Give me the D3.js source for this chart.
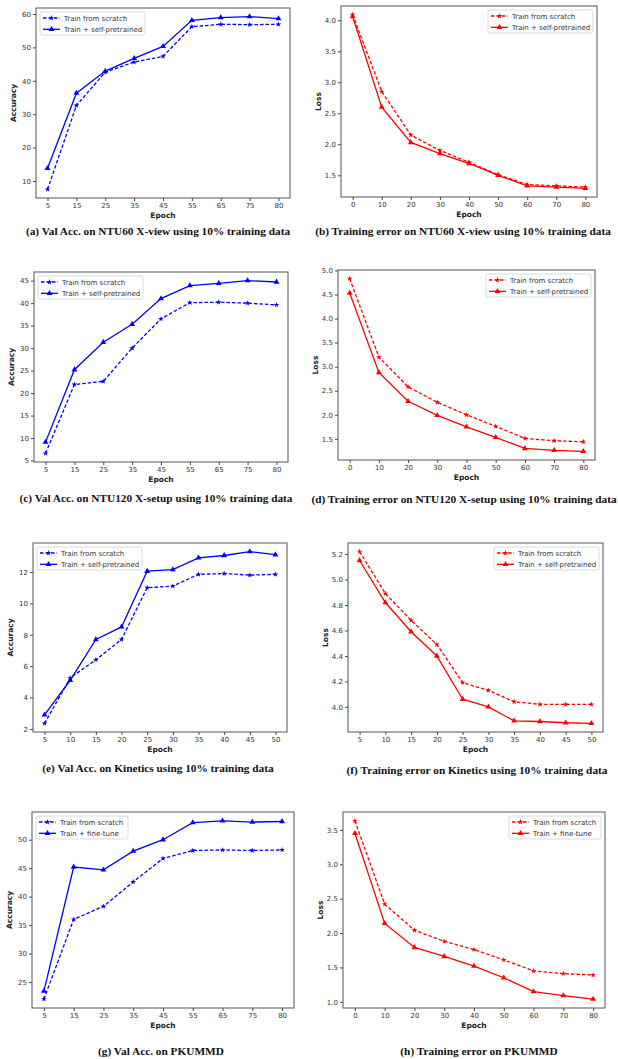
<!DOCTYPE html>
<html lang="en">
<head>
<meta charset="UTF-8">
<title>Val Acc. and Training error curves</title>
<script src="https://d3js.org/d3.v7.min.js"></script>
<style>
    body { margin: 0; background: #fff; }
    svg text { font-family: "DejaVu Sans", sans-serif; }
    .tick text { fill: #333; font-size: 7px; }
    .axlab { font-size: 7.5px; font-weight: bold; fill: #222; }
    .leg { font-size: 7px; fill: #333; }
    .cap { font-family: "Liberation Serif", "Times New Roman", serif !important; font-weight: bold; font-size: 11.3px; fill: #111; }
</style>
</head>
<body>
<div id="chart"></div>
<script>
// epochs
const epochsAcc = ["5", "15", "25", "35", "45", "55", "65", "75", "80"];
const epochsLoss = [0, 10, 20, 30, 40, 50, 60, 70, 80];
const epochsKin = [5, 10, 15, 20, 25, 30, 35, 40, 45, 50];

// (a) NTU60 X-view acc
const ntu60AccScratch = [7.5, 32.6, 42.6, 45.6, 47.3, 56.2, 56.9, 56.8, 56.9];
const ntu60AccPre = [13.8, 36.3, 42.9, 46.7, 50.3, 58.1, 58.9, 59.2, 58.6];
// (b) NTU60 X-view loss
const ntu60LossScratch = [4.09, 2.85, 2.15, 1.90, 1.71, 1.51, 1.35, 1.33, 1.31];
const ntu60LossPre = [4.06, 2.60, 2.03, 1.85, 1.69, 1.50, 1.33, 1.31, 1.29];
// (c) NTU120 X-setup acc
const ntu120AccScratch = [6.6, 21.9, 22.6, 30.0, 36.5, 40.1, 40.2, 40.0, 39.6];
const ntu120AccPre = [9.1, 25.2, 31.3, 35.3, 41.0, 43.9, 44.4, 45.0, 44.7];
// (d) NTU120 X-setup loss
const ntu120LossScratch = [4.83, 3.20, 2.58, 2.26, 2.00, 1.76, 1.51, 1.46, 1.44];
const ntu120LossPre = [4.53, 2.88, 2.28, 1.99, 1.75, 1.53, 1.30, 1.26, 1.24];
// (e) Kinetics acc
const kinAccScratch = [2.35, 5.25, 6.4, 7.7, 11.0, 11.1, 11.85, 11.9, 11.8, 11.85];
const kinAccPre = [2.9, 5.1, 7.7, 8.5, 12.05, 12.15, 12.9, 13.05, 13.3, 13.1];
// (f) Kinetics loss
const kinLossScratch = [5.22, 4.89, 4.68, 4.49, 4.19, 4.13, 4.04, 4.02, 4.02, 4.02];
const kinLossPre = [5.15, 4.82, 4.59, 4.40, 4.06, 4.00, 3.89, 3.885, 3.875, 3.87];
// (g) PKUMMD acc
const pkuAccScratch = [22.0, 36.0, 38.3, 42.6, 46.7, 48.1, 48.2, 48.1, 48.2];
const pkuAccTune = [23.4, 45.2, 44.7, 48.0, 50.0, 53.0, 53.3, 53.1, 53.2];
// (h) PKUMMD loss
const pkuLossScratch = [3.63, 2.42, 2.04, 1.88, 1.76, 1.61, 1.45, 1.41, 1.39];
const pkuLossTune = [3.45, 2.14, 1.79, 1.66, 1.52, 1.35, 1.15, 1.09, 1.04];

const seriesNames = ["Train from scratch", "Train + self-pretrained"];
const seriesNamesTune = ["Train from scratch", "Train + fine-tune"];

const captions = [
    "(a) Val Acc. on NTU60 X-view using 10% training data",
    "(b) Training error on NTU60 X-view using 10% training data",
    "(c) Val Acc. on NTU120 X-setup using 10% training data",
    "(d) Training error on NTU120 X-setup using 10% training data",
    "(e) Val Acc. on Kinetics using 10% training data",
    "(f) Training error on Kinetics using 10% training data",
    "(g) Val Acc. on PKUMMD",
    "(h) Training error on PKUMMD"
];

const W = 618, H = 1059;
const svg = d3.select('#chart').append('svg').attr('width', W).attr('height', H);

// panel layout: frame [x0,y0,x1,y1], caption position
const panels = [
    {box: [36, 8, 290, 198], x: epochsAcc, a: ntu60AccScratch, b: ntu60AccPre, names: seriesNames, color: "#0000ff", yl: "Accuracy", step: 10, fmt: "d", leg: "left", cap: [158, 235]},
    {box: [341, 6, 597, 197], x: epochsLoss, a: ntu60LossScratch, b: ntu60LossPre, names: seriesNames, color: "#ff0000", yl: "Loss", step: 0.5, fmt: ".1f", leg: "right", cap: [463, 235]},
    {box: [34, 272, 288, 462], x: epochsAcc, a: ntu120AccScratch, b: ntu120AccPre, names: seriesNames, color: "#0000ff", yl: "Accuracy", step: 5, fmt: "d", leg: "left", cap: [156, 502]},
    {box: [338, 270, 595, 460], x: epochsLoss, a: ntu120LossScratch, b: ntu120LossPre, names: seriesNames, color: "#ff0000", yl: "Loss", step: 0.5, fmt: ".1f", leg: "right", cap: [464, 503]},
    {box: [33, 543, 287, 732], x: epochsKin, a: kinAccScratch, b: kinAccPre, names: seriesNames, color: "#0000ff", yl: "Accuracy", step: 2, fmt: "d", leg: "left", cap: [158, 772]},
    {box: [348, 543, 603, 732], x: epochsKin, a: kinLossScratch, b: kinLossPre, names: seriesNames, color: "#ff0000", yl: "Loss", step: 0.2, fmt: ".1f", leg: "right", cap: [477, 774]},
    {box: [32, 812, 294, 1008], x: epochsAcc, a: pkuAccScratch, b: pkuAccTune, names: seriesNamesTune, color: "#0000ff", yl: "Accuracy", step: 5, fmt: "d", leg: "left", cap: [161, 1055]},
    {box: [343, 812, 605, 1008], x: epochsLoss, a: pkuLossScratch, b: pkuLossTune, names: seriesNamesTune, color: "#ff0000", yl: "Loss", step: 0.5, fmt: ".1f", leg: "right", cap: [479, 1055]}
];

const star = d3.symbol().type(d3.symbolStar).size(10);
const tri = d3.symbol().type(d3.symbolTriangle).size(15);

panels.forEach((p, i) => {
    const [x0, y0, x1, y1] = p.box;
    const g = svg.append('g');

    // x scale: categorical epochs are evenly spaced, numeric ones linear with 5% margin
    let x;
    if (typeof p.x[0] === 'string') {
        x = d3.scalePoint().domain(p.x).range([x0, x1]).padding(0.4);
    } else {
        const ext = d3.extent(p.x), m = (ext[1] - ext[0]) * 0.05;
        x = d3.scaleLinear().domain([ext[0] - m, ext[1] + m]).range([x0, x1]);
    }
    const all = p.a.concat(p.b);
    const yext = d3.extent(all), ym = (yext[1] - yext[0]) * 0.05;
    const y = d3.scaleLinear().domain([yext[0] - ym, yext[1] + ym]).range([y1, y0]);

    const tv = d3.range(Math.ceil(y.domain()[0] / p.step - 1e-9), Math.floor(y.domain()[1] / p.step + 1e-9) + 1)
        .map(k => +(k * p.step).toFixed(2));

    const xAxis = d3.axisBottom(x).tickSize(3).tickPadding(2);
    if (typeof p.x[0] !== 'string') xAxis.tickValues(p.x);
    g.append('g').attr('transform', `translate(0,${y1})`).call(xAxis)
        .call(s => s.select('.domain').remove())
        .call(s => s.selectAll('.tick line').attr('stroke', '#444'));
    g.append('g').attr('transform', `translate(${x0},0)`)
        .call(d3.axisLeft(y).tickValues(tv).tickFormat(d3.format(p.fmt)).tickSize(3).tickPadding(2))
        .call(s => s.select('.domain').remove())
        .call(s => s.selectAll('.tick line').attr('stroke', '#444'));

    g.append('rect').attr('x', x0).attr('y', y0).attr('width', x1 - x0).attr('height', y1 - y0)
        .attr('fill', 'none').attr('stroke', '#555').attr('stroke-width', 1);

    g.append('text').attr('class', 'axlab').attr('x', (x0 + x1) / 2).attr('y', y1 + 20)
        .attr('text-anchor', 'middle').text('Epoch');
    g.append('text').attr('class', 'axlab').attr('transform', `translate(${x0 - 20},${(y0 + y1) / 2}) rotate(-90)`)
        .attr('text-anchor', 'middle').text(p.yl);

    const line = d3.line().x((d, j) => x(p.x[j])).y(d => y(d));
    [[p.a, '3.5,2', star], [p.b, null, tri]].forEach(([vals, dash, sym]) => {
        g.append('path').datum(vals).attr('d', line).attr('fill', 'none')
            .attr('stroke', p.color).attr('stroke-width', 1.3)
            .attr('stroke-dasharray', dash);
        g.selectAll(null).data(vals).enter().append('path')
            .attr('d', sym).attr('fill', p.color)
            .attr('transform', (d, j) => `translate(${x(p.x[j])},${y(d)})`);
    });

    // legend
    const lw = p.names[1].length > 18 ? 105 : 92, lh = 23;
    const lx = p.leg === 'left' ? x0 + 4 : x1 - 4 - lw, ly = y0 + 4;
    const lg = g.append('g').attr('transform', `translate(${lx},${ly})`);
    lg.append('rect').attr('width', lw).attr('height', lh).attr('rx', 2)
        .attr('fill', '#fff').attr('stroke', '#d0d0d0').attr('stroke-width', 0.8);
    [[p.names[0], '3.5,2', star], [p.names[1], null, tri]].forEach(([nm, dash, sym], k) => {
        const yy = 6 + k * 11.3;
        lg.append('line').attr('x1', 3).attr('x2', 20).attr('y1', yy).attr('y2', yy)
            .attr('stroke', p.color).attr('stroke-width', 1.3).attr('stroke-dasharray', dash);
        lg.append('path').attr('d', sym).attr('fill', p.color).attr('transform', `translate(11.5,${yy})`);
        lg.append('text').attr('class', 'leg').attr('x', 24).attr('y', yy + 2.5).text(nm);
    });

    svg.append('text').attr('class', 'cap').attr('x', p.cap[0]).attr('y', p.cap[1])
        .attr('text-anchor', 'middle').text(captions[i]);
});
</script>
</body>
</html>
